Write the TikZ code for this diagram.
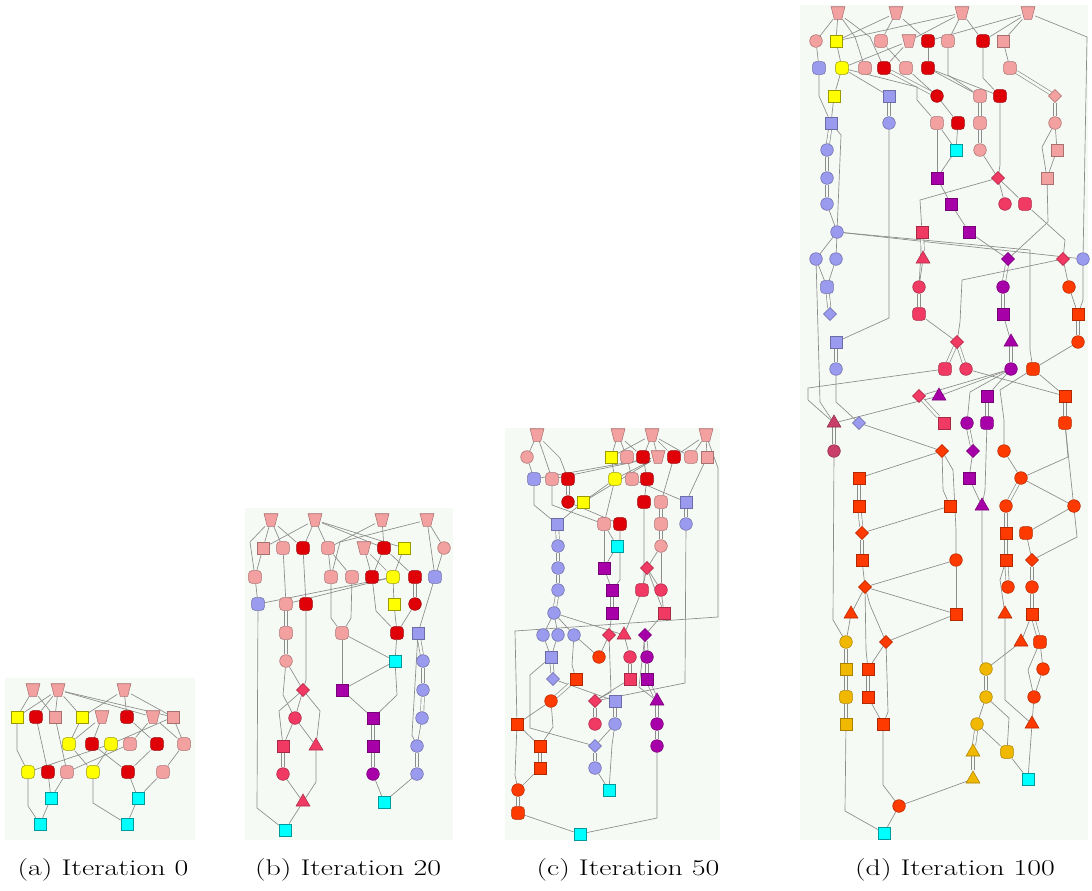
\documentclass[tikz,border=0pt]{standalone}
\usepackage{graphicx}
\usetikzlibrary{shapes.geometric,backgrounds}
\definecolor{cPK}{HTML}{F2A0A0}
\definecolor{cRD}{HTML}{E00008}
\definecolor{cYE}{HTML}{FFFF00}
\definecolor{cCY}{HTML}{00FFFF}
\definecolor{cBL}{HTML}{9A9AEE}
\definecolor{cCR}{HTML}{F03A64}
\definecolor{cPU}{HTML}{A800A8}
\definecolor{cOR}{HTML}{FF3A00}
\definecolor{cGO}{HTML}{F0B800}
\definecolor{cDR}{HTML}{C8406A}
\definecolor{cBG}{HTML}{F6FAF4}
\definecolor{cED}{HTML}{8C8C8C}
\tikzset{
 nbase/.style={inner sep=0pt, line width=0.4pt},
 sq/.style={nbase, rectangle, minimum size=9pt},
 oc/.style={nbase, rectangle, rounded corners=2.4pt, minimum size=9.5pt},
 ci/.style={nbase, circle, minimum size=9.5pt},
 di/.style={nbase, diamond, minimum size=10pt},
 ti/.style={nbase, regular polygon, regular polygon sides=3, minimum size=12pt},
 tr/.style={nbase, rectangle, minimum width=10pt, minimum height=9pt},
 trshape/.style={fill=cPK, draw=cPK!70!black, line width=0.4pt},
 pk/.style={fill=cPK, draw=cPK!70!black},
 rd/.style={fill=cRD, draw=cRD!70!black},
 ye/.style={fill=cYE, draw=cYE!60!black},
 cy/.style={fill=cCY, draw=cCY!60!black},
 bl/.style={fill=cBL, draw=cBL!70!black},
 cr/.style={fill=cCR, draw=cCR!70!black},
 pu/.style={fill=cPU, draw=cPU!70!black},
 orn/.style={fill=cOR, draw=cOR!70!black},
 go/.style={fill=cGO, draw=cGO!70!black},
 dr/.style={fill=cDR, draw=cDR!70!black},
 ed/.style={draw=cED, line width=0.5pt},
 db/.style={draw=cED, line width=0.5pt, double=cBG, double distance=1.9pt},
 panel/.style={fill=cBG, draw=none},
 captxt/.style={font=\fontsize{17}{20}\selectfont, anchor=base, inner sep=0pt}
}
\newcommand{\captext}[1]{\scalebox{1.32}[1]{#1}}
\begin{document}
\begin{tikzpicture}[x=0.75pt,y=-0.75pt]
\useasboundingbox (0,0) rectangle (1092,890);
% ================= panel a =================
\node[tr] (a1) at (33,690) {};
\node[tr] (a2) at (58,690) {};
\node[tr] (a3) at (124,690) {};
\node[sq,ye] (a4) at (17,717) {};
\node[oc,rd] (a5) at (36,717) {};
\node[sq,pk] (a6) at (55,717) {};
\node[sq,ye] (a7) at (82,717) {};
\node[tr] (a8) at (102,717) {};
\node[oc,rd] (a9) at (127,717) {};
\node[tr] (a10) at (153,717) {};
\node[sq,pk] (a11) at (173,717) {};
\node[oc,ye] (a12) at (69,744) {};
\node[oc,rd] (a13) at (92,744) {};
\node[oc,ye] (a14) at (111,744) {};
\node[oc,pk] (a15) at (130,744) {};
\node[oc,rd] (a16) at (157,744) {};
\node[oc,pk] (a17) at (184,744) {};
\node[oc,ye] (a18) at (28,772) {};
\node[oc,rd] (a19) at (48,772) {};
\node[oc,pk] (a20) at (67,772) {};
\node[oc,ye] (a21) at (93,772) {};
\node[oc,rd] (a22) at (128,772) {};
\node[oc,pk] (a23) at (163,772) {};
\node[sq,cy] (a24) at (51,798) {};
\node[sq,cy] (a25) at (138,798) {};
\node[sq,cy] (a26) at (40,824) {};
\node[sq,cy] (a27) at (127,824) {};
% ================= panel b =================
\node[tr] (b1) at (271,520) {};
\node[tr] (b2) at (315,520) {};
\node[tr] (b3) at (382,520) {};
\node[tr] (b4) at (427,520) {};
\node[sq,pk] (b5) at (263,548) {};
\node[oc,pk] (b6) at (283,548) {};
\node[oc,rd] (b7) at (303,548) {};
\node[oc,pk] (b8) at (328,548) {};
\node[tr] (b9) at (364,548) {};
\node[oc,rd] (b10) at (384,548) {};
\node[sq,ye] (b11) at (404,548) {};
\node[ci,pk] (b12) at (444,548) {};
\node[oc,pk] (b13) at (255,577) {};
\node[oc,pk] (b14) at (331,577) {};
\node[oc,pk] (b15) at (352,577) {};
\node[oc,rd] (b16) at (372,577) {};
\node[oc,ye] (b17) at (393,577) {};
\node[oc,rd] (b18) at (415,577) {};
\node[oc,bl] (b19) at (435,577) {};
\node[oc,bl] (b20) at (258,604) {};
\node[oc,pk] (b21) at (286,604) {};
\node[oc,rd] (b22) at (306,604) {};
\node[sq,ye] (b23) at (394,604) {};
\node[ci,rd] (b24) at (415,604) {};
\node[oc,pk] (b25) at (286,633) {};
\node[oc,pk] (b26) at (342,633) {};
\node[oc,rd] (b27) at (397,633) {};
\node[sq,bl] (b28) at (418,633) {};
\node[ci,pk] (b29) at (286,661) {};
\node[sq,cy] (b30) at (395,661) {};
\node[ci,bl] (b31) at (423,661) {};
\node[di,cr] (b32) at (303,690) {};
\node[sq,pu] (b33) at (342,690) {};
\node[ci,bl] (b34) at (423,690) {};
\node[ci,cr] (b35) at (295,718) {};
\node[sq,pu] (b36) at (373,718) {};
\node[ci,bl] (b37) at (422,718) {};
\node[sq,cr] (b38) at (283,746) {};
\node[ti,cr] (b39) at (316,746) {};
\node[sq,pu] (b40) at (373,746) {};
\node[ci,bl] (b41) at (417,746) {};
\node[ci,cr] (b42) at (283,774) {};
\node[ci,pu] (b43) at (373,774) {};
\node[ci,bl] (b44) at (417,774) {};
\node[ti,cr] (b45) at (303,802) {};
\node[sq,cy] (b46) at (384,802) {};
\node[sq,cy] (b47) at (285,830) {};
% ================= panel c =================
\node[tr] (c1) at (537,435) {};
\node[tr] (c2) at (618,435) {};
\node[tr] (c3) at (652,435) {};
\node[tr] (c4) at (706,435) {};
\node[ci,pk] (c5) at (527,457) {};
\node[sq,ye] (c6) at (611,457) {};
\node[oc,pk] (c7) at (627,457) {};
\node[oc,rd] (c8) at (643,457) {};
\node[tr] (c9) at (658,457) {};
\node[oc,rd] (c10) at (674,457) {};
\node[oc,pk] (c11) at (691,457) {};
\node[sq,pk] (c12) at (707,457) {};
\node[oc,bl] (c13) at (534,479) {};
\node[oc,pk] (c14) at (552,479) {};
\node[oc,rd] (c15) at (568,479) {};
\node[oc,ye] (c16) at (615,479) {};
\node[oc,pk] (c17) at (632,479) {};
\node[oc,rd] (c18) at (647,479) {};
\node[ci,rd] (c19) at (568,502) {};
\node[sq,ye] (c20) at (583,502) {};
\node[oc,rd] (c21) at (644,502) {};
\node[oc,pk] (c22) at (661,502) {};
\node[sq,bl] (c23) at (686,502) {};
\node[sq,bl] (c24) at (557,524) {};
\node[oc,pk] (c25) at (604,524) {};
\node[oc,rd] (c26) at (620,524) {};
\node[oc,pk] (c27) at (661,524) {};
\node[ci,bl] (c28) at (686,524) {};
\node[ci,bl] (c29) at (558,546) {};
\node[sq,cy] (c30) at (617,546) {};
\node[ci,pk] (c31) at (661,546) {};
\node[ci,bl] (c32) at (558,568) {};
\node[sq,pu] (c33) at (604,568) {};
\node[di,cr] (c34) at (647,568) {};
\node[ci,bl] (c35) at (558,590) {};
\node[sq,pu] (c36) at (612,590) {};
\node[oc,cr] (c37) at (642,590) {};
\node[ci,cr] (c38) at (661,590) {};
\node[ci,bl] (c39) at (554,613) {};
\node[sq,pu] (c40) at (612,613) {};
\node[sq,cr] (c41) at (664,613) {};
\node[ci,bl] (c42) at (543,635) {};
\node[ci,bl] (c43) at (558,635) {};
\node[ci,bl] (c44) at (574,635) {};
\node[di,cr] (c45) at (609,635) {};
\node[ti,cr] (c46) at (624,635) {};
\node[di,pu] (c47) at (645,635) {};
\node[sq,bl] (c48) at (551,657) {};
\node[ci,orn] (c49) at (599,657) {};
\node[ci,cr] (c50) at (630,657) {};
\node[ci,pu] (c51) at (647,657) {};
\node[di,bl] (c52) at (553,679) {};
\node[sq,orn] (c53) at (576,679) {};
\node[sq,cr] (c54) at (630,679) {};
\node[sq,pu] (c55) at (647,679) {};
\node[ci,orn] (c56) at (551,701) {};
\node[di,cr] (c57) at (595,701) {};
\node[sq,bl] (c58) at (615,701) {};
\node[ti,pu] (c59) at (657,701) {};
\node[sq,orn] (c60) at (517,724) {};
\node[ci,cr] (c61) at (595,724) {};
\node[ci,bl] (c62) at (615,724) {};
\node[ci,pu] (c63) at (657,724) {};
\node[sq,orn] (c64) at (540,746) {};
\node[di,bl] (c65) at (595,746) {};
\node[ci,pu] (c66) at (657,746) {};
\node[sq,orn] (c67) at (540,768) {};
\node[ci,bl] (c68) at (595,768) {};
\node[ci,orn] (c69) at (518,790) {};
\node[sq,cy] (c70) at (609,790) {};
\node[oc,orn] (c71) at (518,813) {};
\node[sq,cy] (c72) at (580,834) {};
% ================= panel d =================
\node[tr] (d1) at (838,13) {};
\node[tr] (d2) at (896,13) {};
\node[tr] (d3) at (962,13) {};
\node[tr] (d4) at (1028,13) {};
\node[ci,pk] (d5) at (816,41) {};
\node[sq,ye] (d6) at (836,41) {};
\node[oc,pk] (d7) at (881,41) {};
\node[tr] (d8) at (909,41) {};
\node[oc,rd] (d9) at (928,41) {};
\node[oc,pk] (d10) at (948,41) {};
\node[oc,rd] (d11) at (983,41) {};
\node[sq,pk] (d12) at (1003,41) {};
\node[oc,bl] (d13) at (819,68) {};
\node[oc,ye] (d14) at (842,68) {};
\node[oc,pk] (d15) at (865,68) {};
\node[oc,rd] (d16) at (884,68) {};
\node[oc,pk] (d17) at (906,68) {};
\node[oc,rd] (d18) at (928,68) {};
\node[oc,pk] (d19) at (1010,68) {};
\node[sq,ye] (d20) at (834,96) {};
\node[sq,bl] (d21) at (889,96) {};
\node[ci,rd] (d22) at (937,96) {};
\node[oc,pk] (d23) at (980,96) {};
\node[oc,rd] (d24) at (1000,96) {};
\node[di,pk] (d25) at (1055,96) {};
\node[sq,bl] (d26) at (831,123) {};
\node[ci,bl] (d27) at (889,123) {};
\node[oc,pk] (d28) at (937,123) {};
\node[oc,rd] (d29) at (958,123) {};
\node[oc,pk] (d30) at (980,123) {};
\node[ci,pk] (d31) at (1055,123) {};
\node[ci,bl] (d32) at (827,150) {};
\node[sq,cy] (d33) at (956,150) {};
\node[ci,pk] (d34) at (980,150) {};
\node[sq,pk] (d35) at (1057,150) {};
\node[ci,bl] (d36) at (827,178) {};
\node[sq,pu] (d37) at (937,178) {};
\node[di,cr] (d38) at (998,178) {};
\node[sq,pk] (d39) at (1047,178) {};
\node[ci,bl] (d40) at (827,204) {};
\node[sq,pu] (d41) at (951,204) {};
\node[ci,cr] (d42) at (1005,204) {};
\node[oc,cr] (d43) at (1025,204) {};
\node[ci,bl] (d44) at (837,232) {};
\node[sq,cr] (d45) at (922,232) {};
\node[sq,pu] (d46) at (969,232) {};
\node[ci,bl] (d47) at (816,259) {};
\node[ci,bl] (d48) at (836,259) {};
\node[ti,cr] (d49) at (923,259) {};
\node[di,pu] (d50) at (1008,259) {};
\node[di,cr] (d51) at (1063,259) {};
\node[ci,bl] (d52) at (1083,259) {};
\node[oc,bl] (d53) at (827,287) {};
\node[ci,cr] (d54) at (919,287) {};
\node[ci,pu] (d55) at (1003,287) {};
\node[ci,orn] (d56) at (1069,287) {};
\node[di,bl] (d57) at (830,314) {};
\node[oc,cr] (d58) at (919,314) {};
\node[sq,pu] (d59) at (1003,314) {};
\node[sq,orn] (d60) at (1078,314) {};
\node[sq,bl] (d61) at (836,342) {};
\node[di,cr] (d62) at (957,342) {};
\node[ti,pu] (d63) at (1011,342) {};
\node[ci,orn] (d64) at (1078,342) {};
\node[ci,bl] (d65) at (836,369) {};
\node[oc,cr] (d66) at (945,369) {};
\node[ci,cr] (d67) at (966,369) {};
\node[ci,pu] (d68) at (1011,369) {};
\node[oc,orn] (d69) at (1033,369) {};
\node[di,cr] (d70) at (919,396) {};
\node[ti,pu] (d71) at (939,396) {};
\node[sq,pu] (d72) at (987,396) {};
\node[sq,orn] (d73) at (1065,396) {};
\node[ti,dr] (d74) at (834,423) {};
\node[di,bl] (d75) at (859,423) {};
\node[sq,cr] (d76) at (944,423) {};
\node[ci,pu] (d77) at (967,423) {};
\node[oc,pu] (d78) at (987,423) {};
\node[oc,orn] (d79) at (1065,423) {};
\node[ci,dr] (d80) at (834,451) {};
\node[di,orn] (d81) at (942,451) {};
\node[di,pu] (d82) at (973,451) {};
\node[ci,orn] (d83) at (1004,451) {};
\node[sq,orn] (d84) at (859,478) {};
\node[sq,pu] (d85) at (969,478) {};
\node[ci,orn] (d86) at (1021,478) {};
\node[sq,orn] (d87) at (859,506) {};
\node[sq,orn] (d88) at (950,506) {};
\node[ti,pu] (d89) at (982,506) {};
\node[ci,orn] (d90) at (1006,506) {};
\node[ci,orn] (d91) at (1074,506) {};
\node[di,orn] (d92) at (862,533) {};
\node[sq,orn] (d93) at (1006,533) {};
\node[oc,orn] (d94) at (1026,533) {};
\node[sq,orn] (d95) at (862,560) {};
\node[ci,orn] (d96) at (956,560) {};
\node[sq,orn] (d97) at (1006,560) {};
\node[di,orn] (d98) at (1032,560) {};
\node[di,orn] (d99) at (865,587) {};
\node[ci,orn] (d100) at (1008,587) {};
\node[ci,orn] (d101) at (1032,587) {};
\node[ti,orn] (d102) at (851,614) {};
\node[sq,orn] (d103) at (956,614) {};
\node[ti,orn] (d104) at (1005,614) {};
\node[sq,orn] (d105) at (1032,614) {};
\node[ci,go] (d106) at (846,642) {};
\node[di,orn] (d107) at (886,642) {};
\node[ti,orn] (d108) at (1021,642) {};
\node[oc,orn] (d109) at (1040,642) {};
\node[sq,go] (d110) at (846,669) {};
\node[sq,orn] (d111) at (868,669) {};
\node[ci,go] (d112) at (986,669) {};
\node[ci,orn] (d113) at (1043,669) {};
\node[oc,go] (d114) at (846,697) {};
\node[sq,orn] (d115) at (868,697) {};
\node[ci,go] (d116) at (986,697) {};
\node[ci,orn] (d117) at (1034,697) {};
\node[sq,go] (d118) at (846,724) {};
\node[sq,orn] (d119) at (883,724) {};
\node[ci,go] (d120) at (977,724) {};
\node[ti,orn] (d121) at (1032,724) {};
\node[ti,go] (d122) at (973,752) {};
\node[oc,go] (d123) at (1007,752) {};
\node[ti,go] (d124) at (973,779) {};
\node[sq,cy] (d125) at (1028,779) {};
\node[ci,orn] (d126) at (899,806) {};
\node[sq,cy] (d127) at (884,833) {};
% trapezium outlines (wide at the top)
\foreach \n in {a1,a2,a3,a8,a10,b1,b2,b3,b4,b9,c1,c2,c3,c4,c9,d1,d2,d3,d4,d8}
 \filldraw[trshape] (\n.north west) -- (\n.north east) -- ([xshift=-2.4pt]\n.south east) -- ([xshift=2.4pt]\n.south west) -- cycle;
% ================= captions =================
\node[captxt] (ca) at (103,875) {\captext{(a) Iteration 0}};
\node[captxt] (cb) at (348,875) {\captext{(b) Iteration 20}};
\node[captxt] (cc) at (628,875) {\captext{(c) Iteration 50}};
\node[captxt] (cd) at (955,875) {\captext{(d) Iteration 100}};
% ================= edges =================
\begin{pgfonlayer}{background}
\fill[panel] (5,678) rectangle (195,840);
\fill[panel] (245,508) rectangle (453,840);
\fill[panel] (505,428) rectangle (720,840);
\fill[panel] (800,5) rectangle (1088,840);
% --- a
\foreach \u/\v in {a1/a4,a1/a6,a2/a4,a2/a5,a2/a6,a2/a7,a2/a10,a2/a11,a3/a7,a3/a9,a3/a11,
 a5/a19,a6/a20,a7/a12,a8/a12,a8/a13,a9/a16,a10/a15,a10/a17,a11/a14,a11/a17,
 a12/a21,a13/a22,a14/a21,a14/a18,a15/a20,a16/a22,a17/a23,
 a19/a24,a20/a24,a22/a25,a23/a25,a24/a26,a25/a27}
 \draw[ed] (\u) -- (\v);
\draw[ed] (a4) -- (17,750) -- (a18);
\draw[ed] (a18) -- (28,806) -- (a26);
\draw[ed] (a21) -- (93,803) -- (a27);
% --- b
\foreach \u/\v in {b1/b5,b1/b6,b1/b7,b2/b5,b2/b7,b2/b8,b2/b10,b2/b11,b3/b8,b3/b10,b4/b12,b4/b19,
 b5/b13,b8/b14,b8/b15,b9/b16,b9/b17,b10/b16,b10/b18,b11/b17,b12/b19,b13/b20,b17/b20,b17/b21,
 b17/b23,b24/b27,b19/b28,b26/b30,b27/b30,b30/b33,b33/b36,b43/b46,b44/b46,b37/b41,b29/b32,
 b32/b35,b35/b38,b35/b39,b42/b45,b45/b47,b26/b33,b6/b21,b7/b22,b23/b27}
 \draw[ed] (\u) -- (\v);
\foreach \u/\v in {b18/b24,b21/b25,b25/b29,b36/b40,b40/b43,b28/b31,b31/b34,b34/b37,b41/b44,b38/b42}
 \draw[db] (\u) -- (\v);
\draw[ed] (b1) -- (250,542) -- (b13);
\draw[ed] (b4) -- (340,542) -- (b14);
\draw[ed] (b16) -- (376,611) -- (b27);
\draw[ed] (b14) -- (331,618) -- (b26);
\draw[ed] (b15) -- (351,618) -- (b26);
\draw[ed] (b28) -- (412,735) -- (b41);
\draw[ed] (b30) -- (397,695) -- (b36);
\draw[ed] (b22) -- (306,680) -- (b32);
\draw[ed] (b29) -- (283,695) -- (b35);
\draw[ed] (b32) -- (279,711) -- (b38);
\draw[ed] (b32) -- (320,711) -- (b39);
\draw[ed] (b39) -- (316,782) -- (b45);
\draw[ed] (b20) -- (257,808) -- (b47);
% --- c
\foreach \u/\v in {c1/c5,c5/c13,c2/c6,c2/c7,c2/c8,c3/c6,c3/c8,c3/c9,c3/c10,c3/c11,c4/c10,c4/c11,c4/c12,
 c6/c16,c7/c17,c8/c18,c9/c16,c9/c13,c9/c14,c9/c20,c16/c20,c10/c22,c12/c23,c17/c23,c20/c24,c19/c26,
 c16/c25,c18/c21,c25/c30,c25/c33,c30/c33,c33/c36,c34/c37,c34/c38,c34/c41,c38/c41,c31/c34,c31/c38,
 c39/c42,c39/c43,c39/c44,c39/c46,c40/c45,c37/c46,c41/c47,c42/c48,c43/c48,c44/c49,c45/c49,c46/c50,
 c54/c57,c52/c58,c56/c60,c60/c64,c67/c69,c71/c72,c62/c65,c68/c70}
 \draw[ed] (\u) -- (\v);
\foreach \u/\v in {c15/c19,c22/c27,c27/c31,c23/c28,c24/c29,c29/c32,c32/c35,c35/c39,c36/c40,c50/c54,
 c47/c51,c51/c55,c55/c59,c48/c52,c64/c67,c69/c71,c57/c61,c58/c62,c65/c68,c59/c63,c63/c66,c53/c56}
 \draw[db] (\u) -- (\v);
\draw[ed] (c1) -- (545,458) -- (c14);
\draw[ed] (c1) -- (560,458) -- (c15);
\draw[ed] (c4) -- (718,468) -- (718,617) -- (515,631) -- (c60);
\draw[ed] (c13) -- (534,505) -- (c24);
\draw[ed] (c14) -- (552,505) -- (c25);
\draw[ed] (c21) -- (644,580) -- (c37);
\draw[ed] (c26) -- (620,580) -- (c36);
\draw[ed] (c28) -- (685,683) -- (c57);
\draw[ed] (c44) -- (572,665) -- (c53);
\draw[ed] (c45) -- (611,692) -- (c57);
\draw[ed] (c47) -- (639,687) -- (c59);
\draw[ed] (c48) -- (530,675) -- (530,728) -- (c65);
\draw[ed] (c56) -- (553,727) -- (c64);
\draw[ed] (c60) -- (515,775) -- (c69);
\draw[ed] (c66) -- (657,818) -- (c72);
\draw[ed] (c62) -- (612,745) -- (c70);
% --- d
\foreach \u/\v in {d1/d5,d1/d6,d2/d6,d2/d7,d2/d9,d3/d6,d3/d8,d3/d10,d3/d11,d4/d9,d4/d11,d4/d12,
 d5/d13,d6/d14,d7/d17,d8/d16,d8/d14,d9/d18,d12/d19,d14/d20,d14/d21,d17/d22,d18/d23,d18/d24,
 d20/d26,d40/d44,d22/d29,d28/d33,d29/d33,d28/d37,d33/d37,d37/d41,d34/d38,d38/d42,d38/d43,
 d31/d35,d35/d39,d41/d46,d46/d50,d45/d54,d49/d54,d58/d62,d44/d47,d44/d48,d44/d52,d47/d53,
 d48/d53,d59/d63,d51/d56,d56/d60,d64/d69,d68/d70,d68/d71,d68/d72,d71/d74,d75/d81,d81/d84,
 d82/d85,d85/d89,d83/d86,d86/d91,d91/d94,d94/d98,d105/d108,d88/d92,d96/d99,d96/d103,d99/d103,
 d99/d102,d103/d107,d102/d106,d108/d112,d109/d113,d113/d117,d117/d121,d121/d125,d107/d111,
 d115/d119,d126/d127,d126/d124,d116/d120,d120/d123,d123/d125,d67/d73,d69/d73,d95/d99}
 \draw[ed] (\u) -- (\v);
\foreach \u/\v in {d16/d22,d19/d25,d21/d27,d26/d32,d32/d36,d36/d40,d23/d30,d30/d34,d25/d31,d45/d49,
 d54/d58,d53/d57,d61/d65,d50/d55,d55/d59,d63/d68,d60/d64,d62/d66,d62/d67,d70/d76,d72/d78,d73/d79,
 d74/d80,d77/d82,d86/d90,d90/d93,d93/d97,d97/d100,d98/d101,d101/d105,d105/d109,d84/d87,d87/d92,
 d92/d95,d106/d110,d110/d114,d114/d118,d111/d115,d112/d116,d120/d122,d122/d124}
 \draw[db] (\u) -- (\v);
\draw[ed] (d1) -- (855,37) -- (d15);
\draw[ed] (d1) -- (870,37) -- (d16);
\draw[ed] (d4) -- (1087,37) -- (d52);
\draw[ed] (d10) -- (948,75) -- (d23);
\draw[ed] (d11) -- (983,78) -- (d24);
\draw[ed] (d13) -- (819,96) -- (d26);
\draw[ed] (d14) -- (917,87) -- (917,100) -- (d28);
\draw[ed] (d27) -- (889,318) -- (d61);
\draw[ed] (d26) -- (841,135) -- (d44);
\draw[ed] (d24) -- (1000,165) -- (d38);
\draw[ed] (d38) -- (920,200) -- (d45);
\draw[ed] (d31) -- (1042,147) -- (d39);
\draw[ed] (d39) -- (1048,222) -- (d50);
\draw[ed] (d43) -- (1065,240) -- (d51);
\draw[ed] (d44) -- (1030,250) -- (1030,350) -- (d69);
\draw[ed] (d47) -- (820,402) -- (d74);
\draw[ed] (d65) -- (836,402) -- (d75);
\draw[ed] (d52) -- (1083,300) -- (d60);
\draw[ed] (d51) -- (962,280) -- (960,322) -- (d62);
\draw[ed] (d66) -- (808,388) -- (808,400) -- (d74);
\draw[ed] (d68) -- (970,392) -- (d77);
\draw[ed] (d69) -- (1000,390) -- (1004,420) -- (d83);
\draw[ed] (d80) -- (833,620) -- (d106);
\draw[ed] (d81) -- (953,470) -- (956,530) -- (d96);
\draw[ed] (d81) -- (943,490) -- (d88);
\draw[ed] (d78) -- (985,490) -- (d89);
\draw[ed] (d89) -- (982,662) -- (d112);
\draw[ed] (d79) -- (1068,457) -- (d86);
\draw[ed] (d79) -- (1077,537) -- (d98);
\draw[ed] (d97) -- (1000,580) -- (d104);
\draw[ed] (d99) -- (866,650) -- (d111);
\draw[ed] (d99) -- (870,605) -- (d107);
\draw[ed] (d104) -- (1005,700) -- (d121);
\draw[ed] (d109) -- (1028,670) -- (d117);
\draw[ed] (d118) -- (845,811) -- (d127);
\draw[ed] (d107) -- (888,712) -- (d119);
\draw[ed] (d119) -- (883,785) -- (d126);
\draw[ed] (d116) -- (1009,718) -- (d123);
\end{pgfonlayer}
\end{tikzpicture}
\end{document}
